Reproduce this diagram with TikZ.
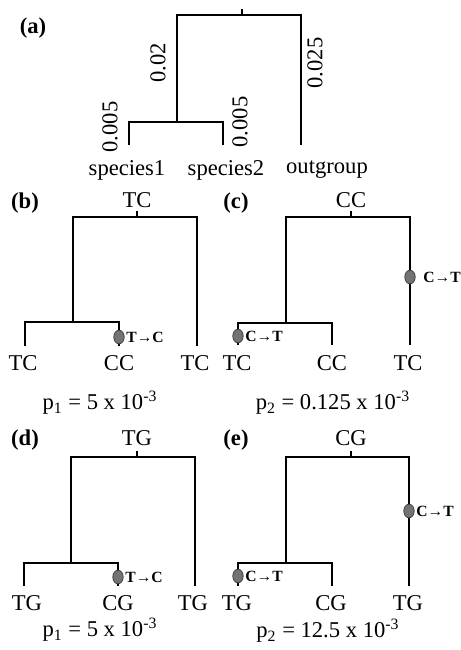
\documentclass[tikz,border=0pt]{standalone}
\usepackage{fontspec}
\setmainfont{Liberation Serif}
\usepackage{tikz}
\usetikzlibrary{
  positioning,
  shapes.geometric
}

\begin{document}
\begin{tikzpicture}[
    x=0.5pt, y=-0.5pt,
    branch/.style={line width=1.25pt},
    txt/.style={font=\fontsize{11.3}{13}\selectfont, inner sep=0pt},
    panel/.style={font=\fontsize{11.3}{13}\selectfont\bfseries, inner sep=0pt},
    blen/.style={txt, rotate=90},
    mutdot/.style={ellipse, fill=black!55, draw=black!75, line width=0.4pt,
      minimum width=5.2pt, minimum height=6.8pt, inner sep=0pt},
    mutlbl/.style={anchor=west, inner sep=0pt,
      font=\fontsize{7.8}{9}\selectfont\bfseries}
  ]
  \useasboundingbox (0,0) rectangle (461,650);

  %% ===== (a) branch lengths =====
  \node[panel] (alab) at (33,28) {(a)};
  \coordinate (a-top)  at (242,9);
  \coordinate (a-root) at (242,15);
  \coordinate (a-in)   at (177,122);
  \coordinate (a-s1)   at (129,145);
  \coordinate (a-s2)   at (223,145);
  \coordinate (a-out)  at (301,145);

  \draw[branch] (a-top) -- (a-root);
  \draw[branch] (a-in) |- (a-root) -| (a-out);
  \draw[branch] (a-s1) |- (a-in) -| (a-s2);

  \node[blen] (len-in)  at (158,63)  {0.02};
  \node[blen] (len-out) at (315,63)  {0.025};
  \node[blen] (len-s1)  at (110,127) {0.005};
  \node[blen] (len-s2)  at (240,122) {0.005};

  \node[txt] (sp1) at (127,170) {species1};
  \node[txt] (sp2) at (226,170) {species2};
  \node[txt] (og)  at (327,170) {outgroup};

  %% ===== (b) =====
  \node[panel] (blab) at (25,203) {(b)};
  \node[txt] (b-anc) at (137,200) {TC};
  \coordinate (b-top)  at (137,211);
  \coordinate (b-root) at (137,217);
  \coordinate (b-in)   at (73,322);
  \coordinate (b-l1)   at (25,346);
  \coordinate (b-l2)   at (119,346);
  \coordinate (b-l3)   at (197,346);

  \draw[branch] (b-top) -- (b-root);
  \draw[branch] (b-in) |- (b-root) -| (b-l3);
  \draw[branch] (b-l1) |- (b-in) -| (b-l2);

  \node[mutdot] (b-mut) at (119,337) {};
  \node[mutlbl] (b-mutl) at (126,337) {T→C};

  \node[txt] (b-t1) at (23,363)  {TC};
  \node[txt] (b-t2) at (119,363) {CC};
  \node[txt] (b-t3) at (195,363) {TC};
  \node[txt] (b-p)  at (100,403) {p\textsubscript{1} = 5 x 10\textsuperscript{-3}};

  %% ===== (c) =====
  \node[panel] (clab) at (236,203) {(c)};
  \node[txt] (c-anc) at (351,200) {CC};
  \coordinate (c-top)  at (351,211);
  \coordinate (c-root) at (351,217);
  \coordinate (c-in)   at (286,323);
  \coordinate (c-l1)   at (238,345);
  \coordinate (c-l2)   at (332,345);
  \coordinate (c-l3)   at (410,345);

  \draw[branch] (c-top) -- (c-root);
  \draw[branch] (c-in) |- (c-root) -| (c-l3);
  \draw[branch] (c-l1) |- (c-in) -| (c-l2);

  \node[mutdot] (c-mut1) at (238,336) {};
  \node[mutlbl] (c-mutl1) at (245,336) {C→T};
  \node[mutdot] (c-mut2) at (410,277) {};
  \node[mutlbl] (c-mutl2) at (423,277) {C→T};

  \node[txt] (c-t1) at (237,363) {TC};
  \node[txt] (c-t2) at (332,363) {CC};
  \node[txt] (c-t3) at (408,363) {TC};
  \node[txt] (c-p)  at (333,403) {p\textsubscript{2} = 0.125 x 10\textsuperscript{-3}};

  %% ===== (d) =====
  \node[panel] (dlab) at (25,440) {(d)};
  \node[txt] (d-anc) at (137,438) {TG};
  \coordinate (d-top)  at (137,451);
  \coordinate (d-root) at (137,457);
  \coordinate (d-in)   at (71,563);
  \coordinate (d-l1)   at (24,586);
  \coordinate (d-l2)   at (118,586);
  \coordinate (d-l3)   at (195,586);

  \draw[branch] (d-top) -- (d-root);
  \draw[branch] (d-in) |- (d-root) -| (d-l3);
  \draw[branch] (d-l1) |- (d-in) -| (d-l2);

  \node[mutdot] (d-mut) at (118,577) {};
  \node[mutlbl] (d-mutl) at (125,577) {T→C};

  \node[txt] (d-t1) at (27,603)  {TG};
  \node[txt] (d-t2) at (118,603) {CG};
  \node[txt] (d-t3) at (193,603) {TG};
  \node[txt] (d-p)  at (100,630) {p\textsubscript{1} = 5 x 10\textsuperscript{-3}};

  %% ===== (e) =====
  \node[panel] (elab) at (236,440) {(e)};
  \node[txt] (e-anc) at (351,438) {CG};
  \coordinate (e-top)  at (351,451);
  \coordinate (e-root) at (351,457);
  \coordinate (e-in)   at (286,563);
  \coordinate (e-l1)   at (238,586);
  \coordinate (e-l2)   at (332,586);
  \coordinate (e-l3)   at (409,586);

  \draw[branch] (e-top) -- (e-root);
  \draw[branch] (e-in) |- (e-root) -| (e-l3);
  \draw[branch] (e-l1) |- (e-in) -| (e-l2);

  \node[mutdot] (e-mut1) at (238,576) {};
  \node[mutlbl] (e-mutl1) at (245,576) {C→T};
  \node[mutdot] (e-mut2) at (409,511) {};
  \node[mutlbl] (e-mutl2) at (416,511) {C→T};

  \node[txt] (e-t1) at (237,603) {TG};
  \node[txt] (e-t2) at (331,603) {CG};
  \node[txt] (e-t3) at (408,603) {TG};
  \node[txt] (e-p)  at (328,631) {p\textsubscript{2} = 12.5 x 10\textsuperscript{-3}};
\end{tikzpicture}
\end{document}
